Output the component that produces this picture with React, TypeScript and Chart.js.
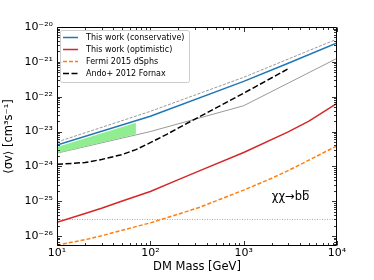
import { useEffect, useRef } from 'react';
import { Chart, registerables } from 'chart.js';

Chart.register(...registerables);

// ---- axis ranges & ticks ----
const X_MIN = 10;
const X_MAX = 1e4;
const Y_MIN = 5.2e-27;
const Y_MAX = 1e-20;
const X_TICKS = [10, 100, 1000, 10000];
const Y_TICKS = [1e-26, 1e-25, 1e-24, 1e-23, 1e-22, 1e-21, 1e-20];

// ---- series ----
const CONS_MASS = [10, 100, 1000, 3000, 10000];
const CONS_SV = [4.1e-24, 2.75e-23, 2.75e-22, 9.1e-22, 3.5e-21];

const OPT_MASS = [10, 20, 30, 50, 100, 200, 340, 1000, 3000, 5000, 10000];
const OPT_SV = [2.51e-26, 4.47e-26, 6.31e-26, 1.02e-25, 1.91e-25, 4.17e-25, 7.59e-25, 2.51e-24, 9.77e-24, 2.0e-23, 6.46e-23];

const FERMI_MASS = [10, 20, 30, 50, 100, 200, 340, 1000, 2000, 3160, 5000, 10000];
const FERMI_SV = [5.5e-27, 7.9e-27, 1.02e-26, 1.48e-26, 2.4e-26, 4.27e-26, 6.76e-26, 2.09e-25, 4.57e-25, 8.13e-25, 1.51e-24, 3.89e-24];

const ANDO_MASS = [10, 20, 30, 50, 70, 100, 150, 266, 1000, 2950];
const ANDO_SV = [1.15e-24, 1.29e-24, 1.58e-24, 2.19e-24, 3.02e-24, 4.79e-24, 8.32e-24, 1.91e-23, 1.26e-22, 6.17e-22];

const GRAY_DASH_MASS = [10, 100, 1000, 10000];
const GRAY_DASH_SV = [5.0e-24, 3.8e-23, 3.6e-22, 4.5e-21];

const GRAY_SOLID_MASS = [10, 100, 1000, 10000];
const GRAY_SOLID_SV = [2.4e-24, 1.0e-23, 5.5e-23, 1.26e-21];

const BAND_MASS = [10, 70];
const BAND_UPPER = [3.6e-24, 1.8e-23];
const BAND_LOWER = [2.4e-24, 8.3e-24];

const THERMAL_MASS = [10, 10000];
const THERMAL_SV = [3e-26, 3e-26];

const LEGEND_LABELS = [
  'This work (conservative)',
  'This work (optimistic)',
  'Fermi 2015 dSphs',
  'Ando+ 2012 Fornax',
];

const ANNOT_MAIN = 'χχ→b';
const ANNOT_BAR = 'b';
const ANNOT_MASS = 2000;
const ANNOT_SV = 1.3e-25;

const FONT = 'DejaVu Sans';

const SUP: Record<string, string> = {
  '-': '⁻', '0': '⁰', '1': '¹', '2': '²', '3': '³', '4': '⁴',
  '5': '⁵', '6': '⁶', '7': '⁷', '8': '⁸', '9': '⁹',
};
const powLabel = (v: number) => {
  const e = Math.round(Math.log10(v));
  return '10' + String(e).split('').map((c) => SUP[c] ?? c).join('');
};

const pts = (xs: number[], ys: number[]) => xs.map((x, i) => ({ x, y: ys[i] }));

const framePlugin = {
  id: 'frameTicks',
  afterDraw(chart: any) {
    const { ctx, chartArea: a, scales } = chart;
    const xs = scales.x;
    const ys = scales.y;
    const L = Math.round(a.left) + 0.5;
    const R = Math.round(a.right) - 0.5;
    const T = Math.round(a.top) + 0.5;
    const B = Math.round(a.bottom) - 0.5;
    ctx.save();
    ctx.strokeStyle = '#000';
    ctx.lineWidth = 1;
    ctx.setLineDash([]);
    ctx.beginPath();
    ctx.rect(L, T, R - L, B - T);
    ctx.stroke();
    ctx.lineWidth = 0.8;
    ctx.beginPath();
    for (let e = Math.floor(Math.log10(X_MIN)); e <= Math.ceil(Math.log10(X_MAX)); e++) {
      for (let k = 1; k <= 9; k++) {
        const v = k * Math.pow(10, e);
        if (v < X_MIN * 0.999 || v > X_MAX * 1.001) continue;
        const p = Math.round(xs.getPixelForValue(v)) + 0.5;
        const len = k === 1 ? 4.5 : 2.5;
        ctx.moveTo(p, B); ctx.lineTo(p, B - len);
        ctx.moveTo(p, T); ctx.lineTo(p, T + len);
      }
    }
    for (let e = Math.floor(Math.log10(Y_MIN)); e <= Math.ceil(Math.log10(Y_MAX)); e++) {
      for (let k = 1; k <= 9; k++) {
        const v = k * Math.pow(10, e);
        if (v < Y_MIN * 0.999 || v > Y_MAX * 1.001) continue;
        const p = Math.round(ys.getPixelForValue(v)) + 0.5;
        const len = k === 1 ? 4.5 : 2.5;
        ctx.moveTo(L, p); ctx.lineTo(L + len, p);
        ctx.moveTo(R, p); ctx.lineTo(R - len, p);
      }
    }
    ctx.stroke();

    // legend
    const lx = 60.5, ly = 30.5, lw = 129, lh = 52;
    ctx.beginPath();
    const r = 2;
    ctx.moveTo(lx + r, ly);
    ctx.arcTo(lx + lw, ly, lx + lw, ly + lh, r);
    ctx.arcTo(lx + lw, ly + lh, lx, ly + lh, r);
    ctx.arcTo(lx, ly + lh, lx, ly, r);
    ctx.arcTo(lx, ly, lx + lw, ly, r);
    ctx.closePath();
    ctx.fillStyle = 'rgba(255,255,255,0.8)';
    ctx.fill();
    ctx.strokeStyle = '#cccccc';
    ctx.lineWidth = 1;
    ctx.stroke();

    const dsets = chart.data.datasets;
    ctx.font = `8px "${FONT}"`;
    ctx.textBaseline = 'middle';
    ctx.textAlign = 'left';
    LEGEND_LABELS.forEach((lab, i) => {
      const ds = dsets.find((d: any) => d.label === lab);
      const y = 37.5 + i * 12;
      if (ds) {
        ctx.beginPath();
        ctx.strokeStyle = ds.borderColor;
        ctx.lineWidth = ds.borderWidth;
        ctx.setLineDash(ds.borderDash || []);
        ctx.moveTo(63, y);
        ctx.lineTo(78, y);
        ctx.stroke();
        ctx.setLineDash([]);
      }
      ctx.fillStyle = '#000';
      ctx.fillText(lab, 86, y);
    });

    // annotation  χχ → b b̄
    ctx.font = `11.5px "${FONT}"`;
    ctx.fillStyle = '#000';
    ctx.textBaseline = 'middle';
    const ax = xs.getPixelForValue(ANNOT_MASS);
    const ay = ys.getPixelForValue(ANNOT_SV);
    ctx.fillText(ANNOT_MAIN, ax, ay);
    const w1 = ctx.measureText(ANNOT_MAIN).width;
    const wb = ctx.measureText(ANNOT_BAR).width;
    ctx.fillText(ANNOT_BAR, ax + w1, ay);
    ctx.beginPath();
    ctx.strokeStyle = '#000';
    ctx.lineWidth = 0.9;
    ctx.moveTo(ax + w1 + 1.5, ay - 6.5);
    ctx.lineTo(ax + w1 + wb - 0.5, ay - 6.5);
    ctx.stroke();
    ctx.restore();
  },
};

export default function App() {
  const ref = useRef<HTMLCanvasElement | null>(null);
  useEffect(() => {
    if (!ref.current) return;
    const chart = new Chart(ref.current, {
      type: 'line',
      data: {
        datasets: [
          {
            label: 'gray dashed', data: pts(GRAY_DASH_MASS, GRAY_DASH_SV),
            borderColor: '#999999', borderWidth: 1, borderDash: [3, 1.5], pointRadius: 0, fill: false, order: 10,
          },
          {
            label: 'gray solid', data: pts(GRAY_SOLID_MASS, GRAY_SOLID_SV),
            borderColor: '#999999', borderWidth: 1, pointRadius: 0, fill: false, order: 9,
          },
          {
            label: 'band upper', data: pts(BAND_MASS, BAND_UPPER),
            borderColor: 'rgba(0,0,0,0)', borderWidth: 0, pointRadius: 0,
            backgroundColor: '#90ee90', fill: '+1', order: 8,
          },
          {
            label: 'band lower', data: pts(BAND_MASS, BAND_LOWER),
            borderColor: 'rgba(0,0,0,0)', borderWidth: 0, pointRadius: 0, fill: false, order: 8,
          },
          {
            label: 'thermal', data: pts(THERMAL_MASS, THERMAL_SV),
            borderColor: '#aaaaaa', borderWidth: 1, borderDash: [1, 1.5], pointRadius: 0, fill: false, order: 7,
          },
          {
            label: LEGEND_LABELS[3], data: pts(ANDO_MASS, ANDO_SV),
            borderColor: '#000000', borderWidth: 1.5, borderDash: [6, 2.5], pointRadius: 0, fill: false, order: 4,
          },
          {
            label: LEGEND_LABELS[2], data: pts(FERMI_MASS, FERMI_SV),
            borderColor: '#ff7f0e', borderWidth: 1.5, borderDash: [4, 2], pointRadius: 0, fill: false, order: 3,
          },
          {
            label: LEGEND_LABELS[1], data: pts(OPT_MASS, OPT_SV),
            borderColor: '#d62728', borderWidth: 1.5, pointRadius: 0, fill: false, order: 2,
          },
          {
            label: LEGEND_LABELS[0], data: pts(CONS_MASS, CONS_SV),
            borderColor: '#1f77b4', borderWidth: 1.5, pointRadius: 0, fill: false, order: 1,
          },
        ],
      },
      options: {
        animation: false,
        responsive: false,
        devicePixelRatio: 1,
        layout: { padding: { top: 27, right: 37, left: 0, bottom: 0 } },
        elements: { line: { tension: 0 } },
        plugins: { legend: { display: false }, tooltip: { enabled: false } },
        scales: {
          x: {
            type: 'logarithmic',
            min: X_MIN,
            max: X_MAX,
            position: 'bottom',
            grid: { display: false, drawTicks: false },
            border: { display: false },
            afterBuildTicks: (s: any) => { s.ticks = X_TICKS.map((v) => ({ value: v })); },
            afterFit: (s: any) => { s.height = 34; },
            ticks: {
              autoSkip: false, maxRotation: 0, minRotation: 0, padding: 1, color: '#000',
              font: { family: FONT, size: 11 },
              callback: (v: any) => powLabel(Number(v)),
            },
            title: {
              display: true, text: 'DM Mass [GeV]', color: '#000',
              font: { family: FONT, size: 11.5 }, padding: { top: 0, bottom: 5.6 },
            },
          },
          y: {
            type: 'logarithmic',
            min: Y_MIN,
            max: Y_MAX,
            position: 'left',
            grid: { display: false, drawTicks: false },
            border: { display: false },
            afterBuildTicks: (s: any) => { s.ticks = Y_TICKS.map((v) => ({ value: v })); },
            afterFit: (s: any) => { s.width = 57; },
            ticks: {
              autoSkip: false, padding: 4, color: '#000',
              font: { family: FONT, size: 11 },
              callback: (v: any) => powLabel(Number(v)),
            },
            title: {
              display: true, text: '⟨σv⟩ [cm³s⁻¹]', color: '#000',
              font: { family: FONT, size: 11.5 }, padding: { top: 2.5, bottom: 0 },
            },
          },
        },
      } as any,
      plugins: [framePlugin],
    });
    return () => chart.destroy();
  }, []);
  return (
    <div style={{ position: 'fixed', left: 0, top: 0, width: 374, height: 280, background: '#fff' }}>
      <canvas ref={ref} width={374} height={280} style={{ display: 'block' }} />
    </div>
  );
}
